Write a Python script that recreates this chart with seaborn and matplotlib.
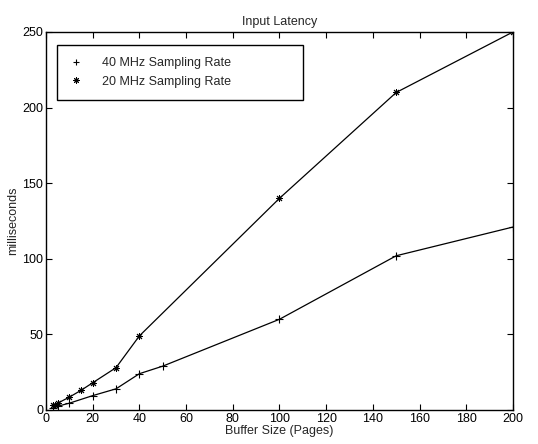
import pandas as pd
import seaborn as sns
import matplotlib.pyplot as plt
from matplotlib.lines import Line2D

# Buffer size (pages) and latency (ms)
pages_40 = [3, 5, 10, 20, 30, 40, 50, 100, 150, 200]
latency_40 = [1.5, 2.5, 4.5, 9.5, 14, 24, 29, 60, 102, 121]

pages_20 = [3, 4, 5, 10, 15, 20, 30, 40, 100, 150, 200]
latency_20 = [3, 3.5, 4.5, 8.5, 13, 18, 28, 49, 140, 210, 250]

label_40 = '40 MHz Sampling Rate'
label_20 = '20 MHz Sampling Rate'

sns.set_style('ticks')
plt.rcParams['font.family'] = ['Liberation Sans', 'DejaVu Sans']
plt.rcParams['font.size'] = 9

fig = plt.figure(figsize=(5.38, 4.44), dpi=100)
ax = fig.add_axes([0.0855, 0.0766, 0.868, 0.8514])

df_40 = pd.DataFrame({'pages': pages_40, 'ms': latency_40})
df_20 = pd.DataFrame({'pages': pages_20, 'ms': latency_20})

star = (8, 2, 0)
sns.lineplot(data=df_40, x='pages', y='ms', ax=ax, color='black', lw=0.9,
             marker='+', markersize=6, markeredgewidth=0.8, markeredgecolor='black')
sns.lineplot(data=df_20, x='pages', y='ms', ax=ax, color='black', lw=0.9,
             marker=star, markersize=5, markeredgewidth=0.7, markeredgecolor='black')

ax.set_xlim(0, 200)
ax.set_ylim(0, 250)
ax.set_xticks(range(0, 201, 20))
ax.set_yticks(range(0, 251, 50))
ax.tick_params(direction='in', top=True, right=True, length=4, width=0.8,
               labelsize=9, colors='black', pad=2)
for s in ax.spines.values():
    s.set_visible(True)
    s.set_linewidth(1.0)
    s.set_color('black')

ax.set_title('Input Latency', fontsize=9, pad=5)
ax.set_xlabel('Buffer Size (Pages)', fontsize=9, labelpad=0)
ax.set_ylabel('milliseconds', fontsize=9, labelpad=2)

handles = [
    Line2D([], [], ls='none', marker='+', color='black', markersize=5, markeredgewidth=0.8),
    Line2D([], [], ls='none', marker=star, color='black', markersize=4.5, markeredgewidth=0.7),
]
leg = ax.legend(handles, [label_40, label_20], loc='upper left',
                bbox_to_anchor=(0.0236, 0.828, 0.527, 0.138), mode='expand',
                fancybox=False, framealpha=1,
                edgecolor='black', fontsize=9, handlelength=1.0,
                handletextpad=1.6, borderpad=1.0, labelspacing=0.5,
                borderaxespad=0)
leg.get_frame().set_linewidth(1.0)

fig.savefig('out.png', dpi=100)
